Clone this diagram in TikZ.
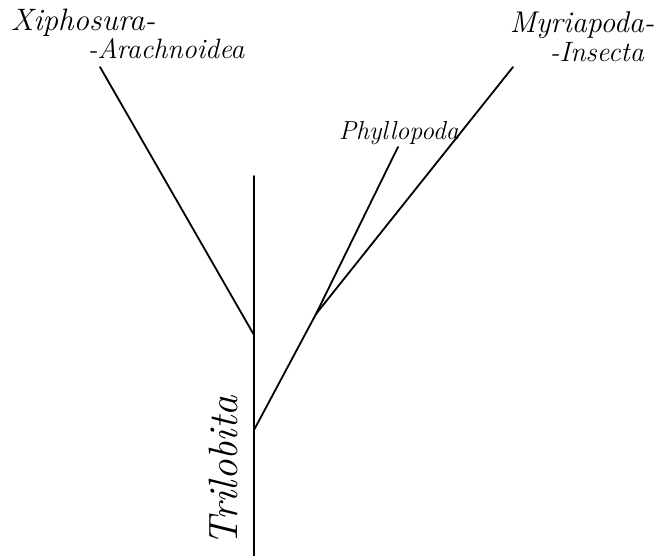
\documentclass[tikz,border=0pt]{standalone}
\usepackage{tikz}

\begin{document}
\begin{tikzpicture}[x=1pt, y=1pt, line width=1.8pt, line cap=round,
  taxon/.style={inner sep=0pt, anchor=base west, font=\itshape\fontsize{28}{30}\selectfont},
  stemlabel/.style={inner sep=0pt, rotate=90, font=\itshape\fontsize{41}{44}\selectfont}]
\useasboundingbox (0,0) rectangle (658,556);
% branch points and free ends
\coordinate (root) at (254,0);
\coordinate (top) at (254,380);
\coordinate (xjoin) at (254,221);
\coordinate (xend) at (100,489);
\coordinate (rjoin) at (254,126);
\coordinate (split) at (316,242);
\coordinate (pend) at (398,409);
\coordinate (mend) at (513,489);
% labels
\node[taxon, font=\itshape\fontsize{31}{33}\selectfont] (xiph) at (10,525) {Xiphosura-};
\node[taxon] (arach) at (87,497) {-Arachnoidea};
\node[taxon, font=\itshape\fontsize{30}{32}\selectfont] (myria) at (509,523) {Myriapoda-};
\node[taxon] (insect) at (549,494) {-Insecta};
\node[taxon, font=\itshape\fontsize{26}{28}\selectfont] (phyll) at (338,416) {Phyllopoda};
\node[stemlabel, anchor=base west] (trilo) at (237,9) {Trilobita};
% tree
\draw (root) -- (top);
\draw (xjoin) -- (xend);
\draw (rjoin) -- (split) -- (pend);
\draw (split) -- (mend);
\end{tikzpicture}
\end{document}
